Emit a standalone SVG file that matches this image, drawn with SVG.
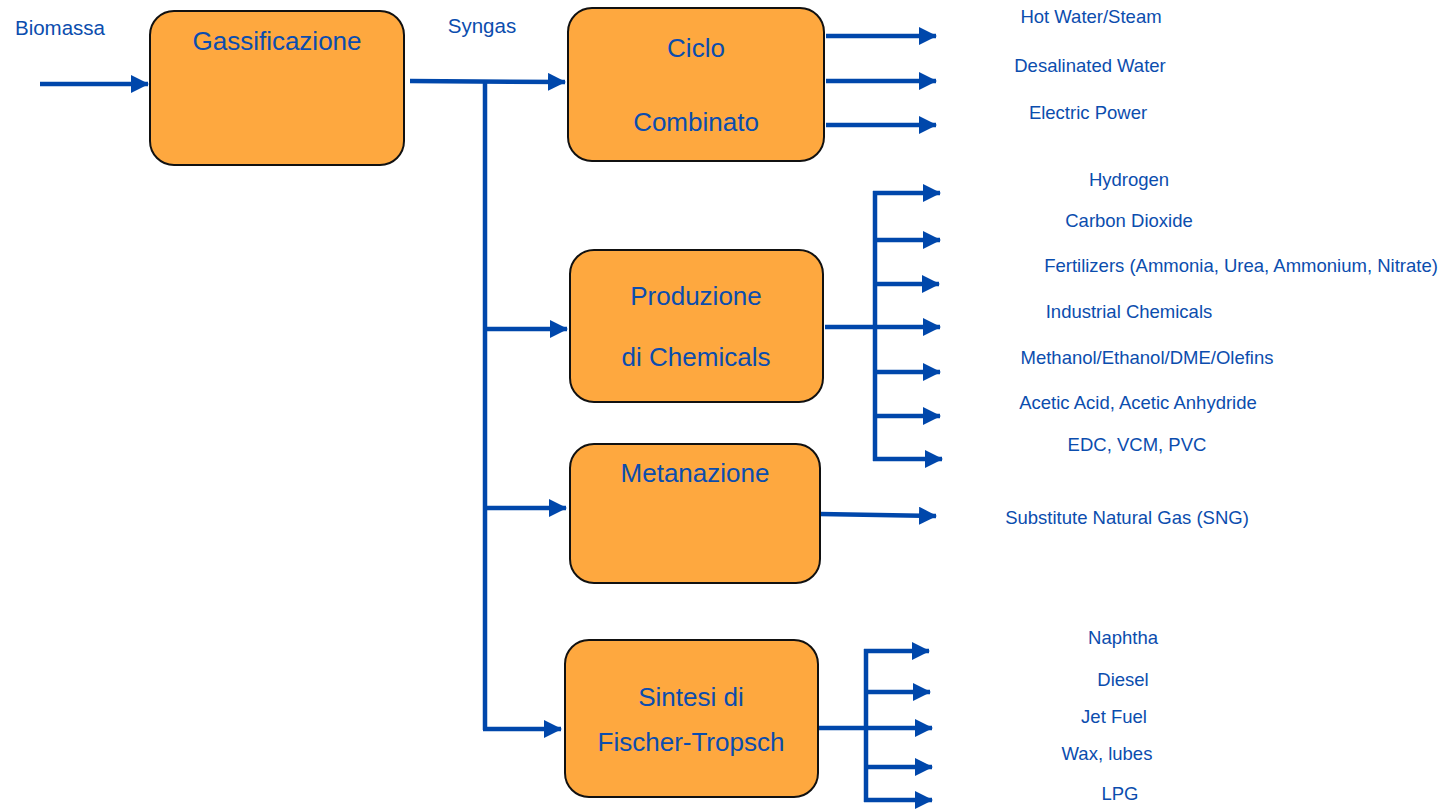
<svg xmlns="http://www.w3.org/2000/svg" width="1443" height="810" viewBox="0 0 1443 810">
<style>
.box{fill:#FEA83F;stroke:#111;stroke-width:2}
.t{font-family:"Liberation Sans",Arial,sans-serif;fill:#0B4DAE;text-anchor:middle}
.big{font-size:26px}
.sm{font-size:18.5px}
.c{fill:none;stroke:#0047AB;stroke-width:4.5}
.a{marker-end:url(#ah)}
</style>
<defs>
<marker id="ah" markerUnits="userSpaceOnUse" markerWidth="18" markerHeight="18" refX="17" refY="9" orient="auto">
<path d="M0,0 L18,9 L0,18 z" fill="#0047AB"/>
</marker>
</defs>
<g id="connectors">
<line class="c a" x1="40" y1="84" x2="148" y2="84"/>
<line class="c a" x1="410" y1="81" x2="565" y2="82"/>
<line class="c" x1="485" y1="81" x2="485" y2="730"/>
<line class="c a" x1="483" y1="329" x2="567" y2="329"/>
<line class="c a" x1="483" y1="508" x2="566" y2="508"/>
<line class="c a" x1="483" y1="729" x2="561" y2="729"/>
<line class="c a" x1="826" y1="36" x2="936" y2="36"/>
<line class="c a" x1="826" y1="81" x2="936" y2="81"/>
<line class="c a" x1="826" y1="125" x2="936" y2="125"/>
<line class="c" x1="825" y1="327" x2="875" y2="327"/>
<line class="c" x1="875" y1="191" x2="875" y2="461"/>
<line class="c a" x1="873" y1="193" x2="940" y2="193"/>
<line class="c a" x1="873" y1="240" x2="940" y2="240"/>
<line class="c a" x1="873" y1="284" x2="939" y2="284"/>
<line class="c a" x1="873" y1="327" x2="940" y2="327"/>
<line class="c a" x1="873" y1="372" x2="940" y2="372"/>
<line class="c a" x1="873" y1="416" x2="940" y2="416"/>
<line class="c a" x1="873" y1="459" x2="942" y2="459"/>
<line class="c a" x1="820" y1="514" x2="936" y2="516"/>
<line class="c" x1="818" y1="728" x2="866" y2="728"/>
<line class="c" x1="866" y1="649" x2="866" y2="802"/>
<line class="c a" x1="864" y1="651" x2="929" y2="651"/>
<line class="c a" x1="864" y1="692" x2="930" y2="692"/>
<line class="c a" x1="864" y1="728" x2="932" y2="728"/>
<line class="c a" x1="864" y1="767" x2="932" y2="767"/>
<line class="c a" x1="864" y1="800" x2="932" y2="800"/>
</g>
<g id="gassificazione">
<rect class="box" x="150" y="11" width="254" height="154" rx="24"/>
<text class="t big" x="277" y="50">Gassificazione</text>
</g>
<g id="ciclo">
<rect class="box" x="568" y="8" width="256" height="153" rx="24"/>
<text class="t big" x="696" y="57">Ciclo</text>
<text class="t big" x="696" y="131">Combinato</text>
</g>
<g id="produzione">
<rect class="box" x="570" y="250" width="253" height="152" rx="24"/>
<text class="t big" x="696" y="305">Produzione</text>
<text class="t big" x="696" y="366">di Chemicals</text>
</g>
<g id="metanazione">
<rect class="box" x="570" y="444" width="250" height="139" rx="24"/>
<text class="t big" x="695" y="482">Metanazione</text>
</g>
<g id="sintesi">
<rect class="box" x="565" y="640" width="253" height="157" rx="24"/>
<text class="t big" x="691" y="706">Sintesi di</text>
<text class="t big" x="691" y="751">Fischer-Tropsch</text>
</g>
<g id="labels">
<text class="t" style="font-size:20.5px" x="60" y="35">Biomassa</text>
<text class="t" style="font-size:20.5px" x="482" y="33">Syngas</text>
<text class="t sm" x="1091" y="23">Hot Water/Steam</text>
<text class="t sm" x="1090" y="72">Desalinated Water</text>
<text class="t sm" x="1088" y="119">Electric Power</text>
<text class="t sm" x="1129" y="186">Hydrogen</text>
<text class="t sm" x="1129" y="227">Carbon Dioxide</text>
<text class="t sm" x="1241" y="272">Fertilizers (Ammonia, Urea, Ammonium, Nitrate)</text>
<text class="t sm" x="1129" y="318">Industrial Chemicals</text>
<text class="t sm" x="1147" y="364">Methanol/Ethanol/DME/Olefins</text>
<text class="t sm" x="1138" y="409">Acetic Acid, Acetic Anhydride</text>
<text class="t sm" x="1137" y="451">EDC, VCM, PVC</text>
<text class="t sm" x="1127" y="524">Substitute Natural Gas (SNG)</text>
<text class="t sm" x="1123" y="644">Naphtha</text>
<text class="t sm" x="1123" y="686">Diesel</text>
<text class="t sm" x="1114" y="723">Jet Fuel</text>
<text class="t sm" x="1107" y="760">Wax, lubes</text>
<text class="t sm" x="1120" y="800">LPG</text>
</g>
</svg>
